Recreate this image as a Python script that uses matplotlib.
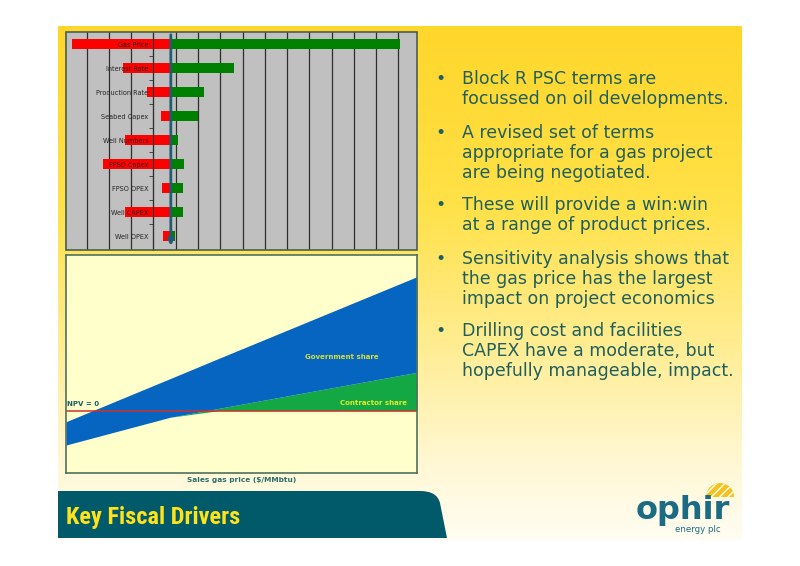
import matplotlib.pyplot as plt
import numpy as np
from matplotlib.colors import LinearSegmentedColormap
from matplotlib.patches import PathPatch, Rectangle, Wedge
from matplotlib.path import Path

# tornado chart: NPV range for each driver (grid units), top to bottom
drivers = ['Gas Price', 'Interest Rate', 'Production Rate', 'Seabed Capex',
           'Well Numbers', 'FPSO Capex', 'FPSO OPEX', 'Well CAPEX', 'Well OPEX']
low = [0.33, 2.61, 3.72, 4.36, 2.72, 1.72, 4.39, 2.72, 4.43]
high = [15.07, 7.6, 6.26, 5.98, 5.11, 5.36, 5.33, 5.33, 4.95]
base_npv = 4.78

# NPV split vs gas price
gas_price = [0, 2.96, 4.33, 10]
npv_floor = [-3.43, -0.66, 0, 0]
contractor_top = [-3.43, -0.66, 0.22, 3.84]
government_top = [-1.1, 3.2, 5.2, 13.4]

bullets = [
    ["Block R PSC terms are", "focussed on oil developments."],
    ["A revised set of terms", "appropriate for a gas project",
     "are being negotiated."],
    ["These will provide a win:win", "at a range of product prices."],
    ["Sensitivity analysis shows that", "the gas price has the largest",
     "impact on project economics"],
    ["Drilling cost and facilities", "CAPEX have a moderate, but",
     "hopefully manageable, impact."],
]

teal = '#1F5F5E'

fig = plt.figure(figsize=(8, 5.66), dpi=100)

# slide background in pixel coordinates
bg = fig.add_axes([0, 0, 1, 1])
bg.set_xlim(0, 800)
bg.set_ylim(566, 0)
bg.axis('off')
cmap = LinearSegmentedColormap.from_list(
    'slide', [(0, '#FFD62A'), (0.35, '#FFE148'), (0.65, '#FFEE9A'),
              (0.86, '#FFF8D6'), (1, '#FFFDF2')])
grad = np.linspace(0, 1, 256).reshape(-1, 1)
bg.imshow(grad, cmap=cmap, extent=(58, 742, 540, 26), aspect='auto')

# title banner
verts = [(58, 491), (420, 491), (437, 491), (440, 503), (447, 538), (58, 538), (58, 491)]
codes = [Path.MOVETO, Path.LINETO, Path.CURVE3, Path.CURVE3, Path.LINETO,
         Path.LINETO, Path.CLOSEPOLY]
bg.add_patch(PathPatch(Path(verts, codes), fc='#015A69', ec='none'))
bg.text(66, 524, 'Key Fiscal Drivers', fontsize=17.5, fontweight='bold',
        color='#FFE21A', va='baseline',
        family=['Roboto Condensed', 'Roboto', 'DejaVu Sans'])

# logo
bg.add_patch(Wedge((720, 497), 14, 180, 360, fc='#F6C21B', ec='white',
                   lw=0, hatch='////'))
bg.text(636, 518.5, 'ophir', fontsize=23, fontweight='bold', color='#1B6B84',
        va='baseline')
bg.text(698, 525.5, 'energy plc', fontsize=6.2, color='#1B6B84',
        ha='center', va='top')

# bullets
y = 79
for lines in bullets:
    bg.text(440, y + 5.5, '\u2022', fontsize=12.5, color=teal, ha='center',
            va='baseline')
    for i, line in enumerate(lines):
        bg.text(461.5, y + 20 * i + 5.5, line, fontsize=12.5, color=teal,
                va='baseline')
    y += 20 * len(lines) + 13

# tornado chart
ax = fig.add_axes([0.0825, 0.5583, 0.43875, 0.3852])
ax.set_facecolor('#C0C0C0')
pos = np.arange(len(drivers))
ax.barh(pos, [base_npv - v for v in low], left=low, height=0.42,
        color='#FF0000')
ax.barh(pos, [v - base_npv for v in high], left=base_npv, height=0.42,
        color='#008000')
ax.set_xlim(0.07, 15.84)
ax.set_ylim(8.58, -0.51)
ax.set_axisbelow(False)
ax.xaxis.set_zorder(0.5)
ax.set_xticks(range(1, 16))
ax.tick_params(axis='x', length=0, labelbottom=False)
ax.grid(axis='x', color='#2E2E2E', lw=0.9)
ax.set_yticks(pos)
ax.set_yticks(np.arange(0.5, 8, 1), minor=True)
ax.tick_params(axis='y', which='major', length=0, pad=3.8, labelsize=4.7,
               labelcolor='#222222')
ax.tick_params(axis='y', which='minor', length=3, color='#303030')
ax.set_yticklabels(drivers, family='Liberation Sans', fontsize=4.7)
for s in ['top', 'right', 'bottom']:
    ax.spines[s].set_visible(False)
ax.spines['left'].set_position(('data', 4))
ax.spines['left'].set_color('#303030')
ax.add_patch(Rectangle((0, 0), 1, 1, transform=ax.transAxes, fill=False,
                       ec='#4C5E4E', lw=1.2, clip_on=False, zorder=6))
ax.annotate('', xy=(base_npv, 8.52), xytext=(base_npv, -0.51),
            arrowprops=dict(arrowstyle='-|>', color='#1F5C73', lw=2,
                            mutation_scale=9), zorder=5)

# NPV split chart
ax2 = fig.add_axes([0.0825, 0.1648, 0.43875, 0.3847])
ax2.set_facecolor('#FFFFCC')
ax2.fill_between(gas_price, npv_floor, contractor_top, color='#13A843', lw=0)
ax2.fill_between(gas_price, contractor_top, government_top, color='#0565C1', lw=0)
ax2.axhline(0, color='#D0302A', lw=1.1)
ax2.set_xlim(0, 10)
ax2.set_ylim(-6.2, 15.57)
ax2.set_xticks([])
ax2.set_yticks([])
for s in ax2.spines.values():
    s.set_color('#4F7060')
    s.set_linewidth(1.2)
ax2.set_xlabel('Sales gas price ($/MMbtu)', fontsize=5.3, fontweight='bold',
               color='#2A6E6E', labelpad=3)
ax2.text(0.02, 0.65, 'NPV = 0', fontsize=5, fontweight='bold', color='#1A6060',
         ha='left', va='center')
ax2.text(7.85, 5.4, 'Government share', fontsize=5, fontweight='bold',
         color='#D6DE3A', ha='center', va='center')
ax2.text(8.75, 0.74, 'Contractor share', fontsize=5, fontweight='bold',
         color='#E2EA2A', ha='center', va='center')

fig.savefig('out.png', dpi=100)
